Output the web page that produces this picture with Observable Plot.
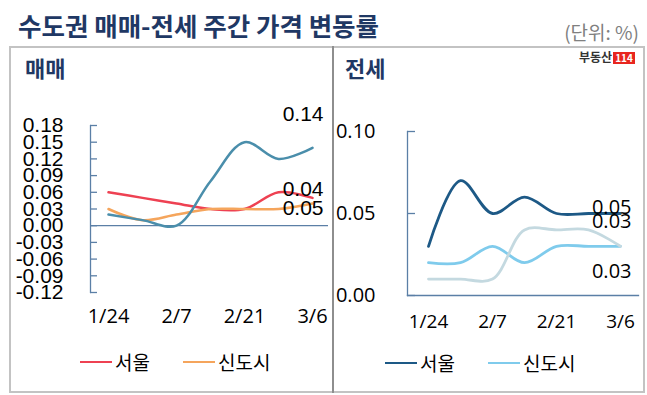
<!DOCTYPE html>
<html><head><meta charset="utf-8">
<script src="https://cdn.jsdelivr.net/npm/d3@7"></script>
<script src="https://cdn.jsdelivr.net/npm/@observablehq/plot@0.6"></script>
<style>
body{margin:0;background:#fff;}
#wrap{position:relative;width:647px;height:395px;overflow:hidden;font-family:"Noto Sans CJK KR","Noto Sans",sans-serif;background:#fff;}
.abs{position:absolute;white-space:nowrap;line-height:1;}
#title{left:18px;top:12px;font-size:25.5px;font-weight:bold;color:#1f3864;}
#unit{right:8px;top:22px;font-size:19px;color:#808080;}
#box{position:absolute;left:9px;top:46px;width:636px;height:347px;border:2px solid #c3c3c3;box-sizing:border-box;}
#divider{position:absolute;left:332px;top:46px;width:2px;height:347px;background:#8e8e8e;}
.ptitle{font-size:22px;font-weight:bold;color:#1f3864;}
#logo{left:579px;top:51px;font-size:12px;font-weight:bold;color:#333;}
#logo span{display:inline-block;background:#e8261f;color:#fff;font-size:10px;padding:1px 2px;margin-left:1px;}
.chart{position:absolute;}
.chart svg{overflow:visible;}
.legend{position:absolute;display:flex;align-items:center;font-size:19px;color:#000;line-height:1;}
.legend .sw{display:inline-block;width:32px;height:2px;margin-right:3px;}
.legend .item{display:flex;align-items:center;margin-right:33px;}
</style></head>
<body><div id="wrap">
<div id="box"></div><div id="divider"></div>
<div class="abs" id="title">수도권 매매-전세 주간 가격 변동률</div>
<div class="abs" id="unit">(단위: %)</div>
<div class="abs ptitle" style="left:25px;top:56px;">매매</div>
<div class="abs ptitle" style="left:345px;top:56px;">전세</div>
<div class="abs" id="logo">부동산<span>114</span></div>
<div class="chart" id="left" style="left:0px;top:100px;"></div>
<div class="chart" id="right" style="left:333px;top:100px;"></div>
<div class="legend" id="legL" style="left:80px;top:352px;"></div>
<div class="legend" id="legR" style="left:385px;top:353px;"></div>
</div>
<script>
const weeks = ["1/24","1/31","2/7","2/14","2/21","2/28","3/6"];
const xTickLabels = ["1/24","2/7","2/21","3/6"];
const seriesNames = ["서울","신도시","경기·인천"];
const legendNames = ["서울","신도시"];

// 매매 (sale)
const saleSeoul    = [0.06,0.05,0.04,0.03,0.03,0.06,0.05];
const saleNewTown  = [0.03,0.01,0.02,0.03,0.03,0.03,0.04];
const saleGyeonggi = [0.02,0.01,0.00,0.08,0.15,0.12,0.14];
const saleYTicks   = [-0.12,-0.09,-0.06,-0.03,0.00,0.03,0.06,0.09,0.12,0.15,0.18];
const saleEndLabels = ["0.04","0.05","0.14"];

// 전세 (rent)
const rentSeoul    = [0.03,0.07,0.05,0.06,0.05,0.05,0.05];
const rentNewTown  = [0.02,0.02,0.03,0.02,0.03,0.03,0.03];
const rentGyeonggi = [0.01,0.01,0.01,0.04,0.04,0.04,0.03];
const rentYTicks   = [0.00,0.05,0.10];
const rentEndLabels = ["0.05","0.03","0.03"];

const saleColors = ["#ee4152","#f5a55c","#4a8eab"];
const rentColors = ["#1d5986","#7fcbec","#c4d9e0"];
const axisColor = "#5b7fa6";
const fmt = d => d.toFixed(2);
const numFont = "'Open Sans', sans-serif";
const arialFont = "'Liberation Sans', Arial, sans-serif";

function longData(arrs){
  return seriesNames.flatMap((s,i)=>weeks.map((w,j)=>({series:s, week:w, value:arrs[i][j]})));
}
const saleData = longData([saleSeoul,saleNewTown,saleGyeonggi]);
const rentData = longData([rentSeoul,rentNewTown,rentGyeonggi]);
const last = (data, s) => data.filter(d => d.series===s && d.week===weeks[weeks.length-1]);

function endLabel(data, s, txt, dy, font, size){
  return Plot.text(last(data,s), {x:"week", y:"value", text:()=>txt, textAnchor:"end", dx:11, dy, fontSize:size, fontFamily:font, fill:"#000"});
}

const left = Plot.plot({
  width:333, height:240, marginLeft:90, marginRight:5, marginTop:25, marginBottom:48,
  style:{background:"transparent", overflow:"visible"},
  x:{type:"point", domain:weeks, range:[107,312], padding:0},
  y:{domain:[-0.12,0.18]},
  color:{domain:seriesNames, range:saleColors},
  marks:[
    Plot.frame({anchor:"left", stroke:axisColor, strokeWidth:1.3}),
    Plot.ruleY([0], {stroke:axisColor, strokeWidth:1.3}),
    Plot.axisY(saleYTicks, {tickSize:7, dx:7, tickFormat:()=>"", label:null, color:axisColor, strokeWidth:1.3}),
    Plot.axisY(saleYTicks, {tickSize:0, tickPadding:27, tickFormat:fmt, label:null, fontSize:21, fontFamily:arialFont, color:"#000"}),
    Plot.axisX(xTickLabels, {tickSize:0, tickPadding:16, label:null, fontSize:20, fontFamily:numFont, color:"#000"}),
    Plot.line(saleData, {x:"week", y:"value", z:"series", stroke:"series", strokeWidth:2.5, curve:"catmull-rom"}),
    endLabel(saleData, "서울", saleEndLabels[0], -9, arialFont, 21),
    endLabel(saleData, "신도시", saleEndLabels[1], 5, arialFont, 21),
    endLabel(saleData, "경기·인천", saleEndLabels[2], -34, arialFont, 21)
  ]
});
document.getElementById("left").appendChild(left);

const right = Plot.plot({
  width:314, height:240, marginLeft:74, marginRight:9, marginTop:31, marginBottom:45,
  style:{background:"transparent", overflow:"visible"},
  x:{type:"point", domain:weeks, range:[92,289], padding:0},
  y:{domain:[0,0.10]},
  color:{domain:seriesNames, range:rentColors},
  marks:[
    Plot.frame({anchor:"left", stroke:axisColor, strokeWidth:1.3}),
    Plot.frame({anchor:"bottom", stroke:axisColor, strokeWidth:1.3}),
    Plot.axisY(rentYTicks, {tickSize:8, dx:8, tickFormat:()=>"", label:null, color:axisColor, strokeWidth:1.3}),
    Plot.axisY(rentYTicks, {tickSize:0, tickPadding:32, tickFormat:fmt, label:null, fontSize:20, fontFamily:numFont, color:"#000"}),
    Plot.axisX(xTickLabels, {tickSize:0, tickPadding:19, label:null, fontSize:19, fontFamily:numFont, color:"#000"}),
    Plot.line(rentData, {x:"week", y:"value", z:"series", stroke:"series", strokeWidth:2.8, curve:"catmull-rom"}),
    endLabel(rentData, "서울", rentEndLabels[0], -6, numFont, 20),
    endLabel(rentData, "신도시", rentEndLabels[1], 25, numFont, 20),
    endLabel(rentData, "경기·인천", rentEndLabels[2], -25, numFont, 20)
  ]
});
document.getElementById("right").appendChild(right);

function legend(id, colors){
  const el = document.getElementById(id);
  legendNames.forEach((n,i)=>{
    const item = document.createElement("div"); item.className="item";
    const sw = document.createElement("span"); sw.className="sw"; sw.style.background = colors[i];
    const t = document.createElement("span"); t.textContent = n;
    item.appendChild(sw); item.appendChild(t); el.appendChild(item);
  });
}
legend("legL", saleColors);
legend("legR", rentColors);
</script>
</body></html>
